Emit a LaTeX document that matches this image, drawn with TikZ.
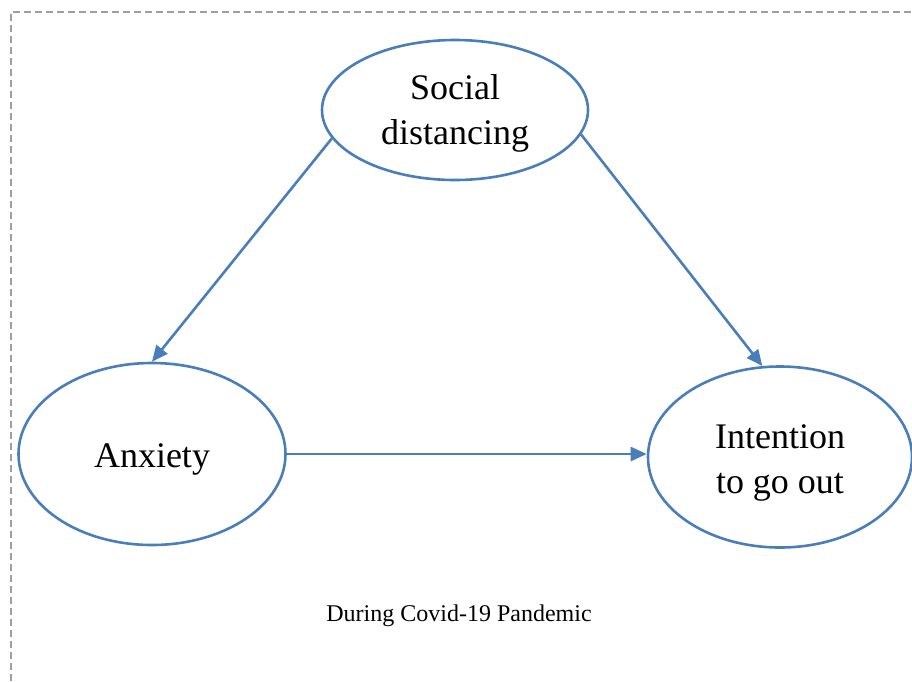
\documentclass[tikz,border=0pt]{standalone}
\usepackage{fontspec}
\setmainfont{Liberation Serif}
\usetikzlibrary{shapes.geometric,arrows.meta}
\definecolor{linkblue}{HTML}{4A7EBB}
\tikzset{
  factor/.style={ellipse, draw=linkblue, line width=2.6pt, inner sep=0pt},
  factortext/.style={align=center, font=\fontsize{36}{45}\selectfont},
  link/.style={draw=linkblue, line width=2.6pt,
    -{Triangle[length=16pt,width=14pt]}}
}
\begin{document}
\begin{tikzpicture}[x=1pt,y=-1pt]

    % Fix the page to the size of the picture
    \useasboundingbox (0,0) rectangle (912,681);

    % Define the centres of the ellipses
    \coordinate (S) at (455,110);
    \coordinate (A) at (152,454);
    \coordinate (I) at (780,457);

    % Draw the dashed frame (top and left edges only)
    \draw[gray!75, line width=2.2pt, dash pattern=on 7pt off 4pt]
        (11,681) -- (11,12) -- (912,12);

    % Draw the three factors
    \node[factor, minimum width=266pt, minimum height=140pt] (social) at (S) {};
    \node[factor, minimum width=267pt, minimum height=182pt] (anxiety) at (A) {};
    \node[factor, minimum width=264pt, minimum height=181pt] (intention) at (I) {};

    % Add the text of the factors
    \node[factortext] (socialtext) at (455,113) {Social\\distancing};
    \node[factortext] (anxietytext) at (152,459) {Anxiety};
    \node[factortext] (intentiontext) at (780,463) {Intention\\to go out};

    % Draw the paths between the factors
    \draw[link] (social.193) -- (anxiety.north);
    \draw[link] (social.349) -- (intention.101);
    \draw[link] (anxiety.east) -- (anxiety.east -| intention.west);

    % Add the caption
    \node[font=\fontsize{24}{28}\selectfont] (caption) at (459,616) {During Covid-19 Pandemic};

\end{tikzpicture}
\end{document}
